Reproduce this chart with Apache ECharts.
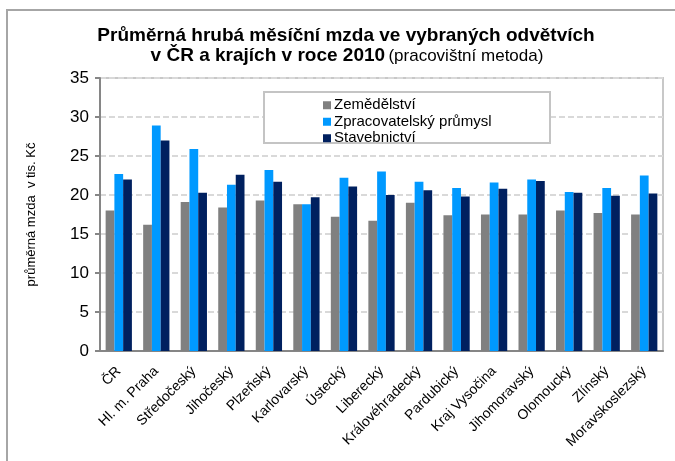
<!DOCTYPE html>
<html>
<head>
<meta charset="utf-8">
<script src="https://cdn.jsdelivr.net/npm/echarts@6/dist/echarts.min.js"></script>
<style>
  html, body { margin: 0; padding: 0; background: #fff; }
  #chart { width: 675px; height: 461px; }
</style>
</head>
<body>
<div id="chart"></div>
<script>
// kraje
const categories = ['ČR', 'Hl. m. Praha', 'Středočeský', 'Jihočeský', 'Plzeňský', 'Karlovarský', 'Ústecký',
  'Liberecký', 'Královéhradecký', 'Pardubický', 'Kraj Vysočina', 'Jihomoravský', 'Olomoucký', 'Zlínský', 'Moravskoslezský']

// průměrná mzda v tis. Kč
const zemedelstvi = [18.0, 16.2, 19.1, 18.4, 19.3, 18.8, 17.2, 16.7, 19.0, 17.4, 17.5, 17.5, 18.0, 17.7, 17.5]
const zpracovatelsky = [22.7, 28.9, 25.9, 21.3, 23.2, 18.8, 22.2, 23.0, 21.7, 20.9, 21.6, 22.0, 20.4, 20.9, 22.5]
const stavebnictvi = [22.0, 27.0, 20.3, 22.6, 21.7, 19.7, 21.1, 20.0, 20.6, 19.8, 20.8, 21.8, 20.3, 19.9, 20.2]

const yTicks = { min: 0, max: 35, interval: 5 }

const font = '"Liberation Sans", Arial, sans-serif'
const chart = echarts.init(document.getElementById('chart'))

chart.setOption({
  animation: false,
  textStyle: { fontFamily: font },
  graphic: [
    // vnější rámeček
    { type: 'rect', shape: { x: 7, y: 10, width: 700, height: 500 }, style: { fill: null, stroke: '#a6a6a6', lineWidth: 2 }, z: 0 },
    // rámeček legendy
    { type: 'rect', shape: { x: 264, y: 92, width: 286, height: 51 }, style: { fill: '#fff', stroke: '#c4c4c4', lineWidth: 2 }, z: 3 },
    {
      type: 'text', x: 346, y: 36,
      style: { text: 'Průměrná hrubá měsíční mzda ve vybraných odvětvích', font: 'bold 19px ' + font, fill: '#000', align: 'center', verticalAlign: 'middle' }
    },
    {
      type: 'text', x: 347, y: 56,
      style: {
        text: '{b|v ČR a krajích v roce 2010} {n|(pracovištní metoda)}',
        align: 'center', verticalAlign: 'middle',
        rich: {
          b: { font: 'bold 19px ' + font, fill: '#000' },
          n: { font: '17px ' + font, fill: '#000' }
        }
      }
    }
  ],
  legend: {
    orient: 'vertical',
    left: 318,
    top: 92,
    itemWidth: 8,
    itemHeight: 8,
    itemGap: 0,
    icon: 'rect',
    z: 5,
    textStyle: { fontSize: 15, color: '#000', fontFamily: font, padding: [0, 0, 0, -2], lineHeight: 16.5 }
  },
  grid: {
    left: 100, right: 12, top: 78, bottom: 110,
    show: true, borderColor: '#c8c8c8', borderWidth: 2
  },
  xAxis: {
    type: 'category',
    data: categories,
    axisLine: { lineStyle: { color: '#868686', width: 2 } },
    axisTick: { length: 5, lineStyle: { color: '#868686', width: 2 } },
    axisLabel: { rotate: 45, fontSize: 14, color: '#000', margin: 18, fontFamily: font, interval: 0 }
  },
  yAxis: {
    type: 'value',
    min: yTicks.min, max: yTicks.max, interval: yTicks.interval,
    name: 'průměrná mzda  v tis. Kč',
    nameLocation: 'middle',
    nameGap: 62,
    nameTextStyle: { fontSize: 13, color: '#000', fontFamily: font },
    axisLine: { show: true, lineStyle: { color: '#868686', width: 2 } },
    axisTick: { show: true, length: 5, lineStyle: { color: '#868686', width: 2 } },
    axisLabel: { fontSize: 17, color: '#000', margin: 11, fontFamily: font },
    splitLine: { lineStyle: { color: '#d9d9d9', width: 2, type: [6, 3] } }
  },
  series: [
    { name: 'Zemědělství', type: 'bar', data: zemedelstvi, itemStyle: { color: '#808080' }, barGap: 0, barCategoryGap: '30%' },
    { name: 'Zpracovatelský průmysl', type: 'bar', data: zpracovatelsky, itemStyle: { color: '#0099ff' } },
    { name: 'Stavebnictví', type: 'bar', data: stavebnictvi, itemStyle: { color: '#00205f' } }
  ]
})
</script>
</body>
</html>
